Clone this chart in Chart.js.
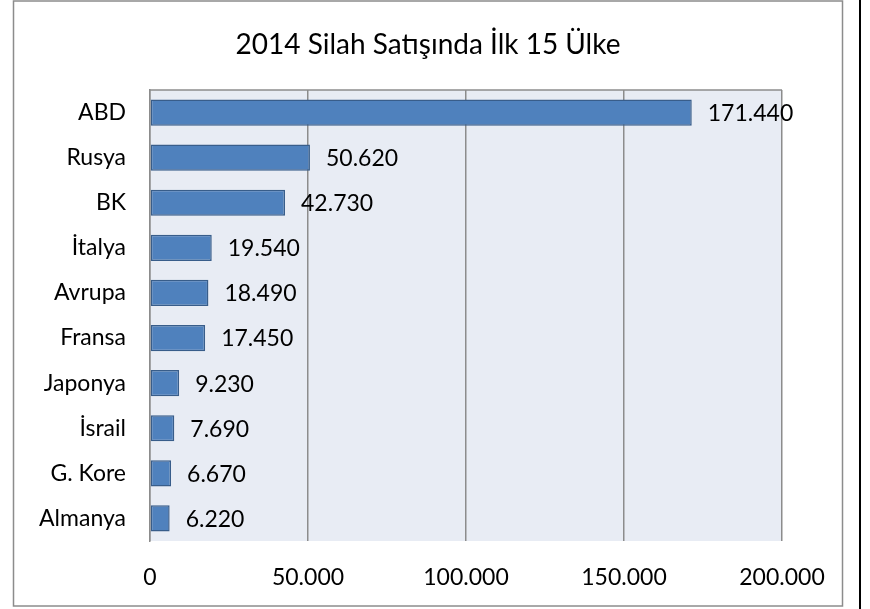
<!DOCTYPE html>
<html>
<head>
<meta charset="utf-8">
<script src="https://cdn.jsdelivr.net/npm/chart.js@4"></script>
<style>
  html, body { margin: 0; padding: 0; background: #fff; }
  #wrap { width: 870px; height: 609px; }
</style>
</head>
<body>
<div id="wrap"><canvas id="myChart" width="870" height="609"></canvas></div>
<script>
var ctx = document.getElementById('myChart');

const countries = ['ABD', 'Rusya', 'BK', 'İtalya', 'Avrupa', 'Fransa', 'Japonya', 'İsrail', 'G. Kore', 'Almanya'];
const sales = [171440, 50620, 42730, 19540, 18490, 17450, 9230, 7690, 6670, 6220];
const xTicks = [0, 50000, 100000, 150000, 200000];

const FONT = 'Lato, sans-serif';

function fmt(v) {
  return String(v).replace(/\B(?=(\d{3})+(?!\d))/g, '.');
}

// frame, plot background and value labels
const decor = {
  id: 'decor',
  beforeDraw(chart) {
    const c = chart.ctx, a = chart.chartArea;
    c.save();
    c.fillStyle = '#fff';
    c.fillRect(0, 0, chart.width, chart.height);
    c.strokeStyle = '#8c8c8c';
    c.lineWidth = 1.5;
    c.strokeRect(13.5, 1, 829, 605);
    c.strokeStyle = '#000';
    c.lineWidth = 2;
    c.beginPath(); c.moveTo(860, 0); c.lineTo(860, 609); c.stroke();
    c.fillStyle = '#e8ecf4';
    c.fillRect(a.left, a.top, a.right - a.left, a.bottom - a.top);
    c.strokeStyle = '#8c8c8c';
    c.lineWidth = 1.5;
    c.beginPath(); c.moveTo(a.left, a.top); c.lineTo(a.right, a.top); c.stroke();
    c.restore();
  },
  afterDatasetsDraw(chart) {
    const c = chart.ctx;
    const meta = chart.getDatasetMeta(0);
    c.save();
    c.font = '23px ' + FONT;
    c.fillStyle = '#000';
    c.textAlign = 'left';
    c.textBaseline = 'middle';
    meta.data.forEach(function (bar, i) {
      c.fillText(fmt(sales[i]), bar.x + 16, bar.y + 1);
    });
    c.restore();
  }
};

var myChart = new Chart(ctx, {
  type: 'bar',
  data: {
    labels: countries,
    datasets: [{
      data: sales,
      backgroundColor: '#4f81bd',
      borderColor: '#385d8a',
      borderWidth: 1.5,
      borderSkipped: false,
      barPercentage: 0.58,
      categoryPercentage: 1
    }]
  },
  options: {
    indexAxis: 'y',
    responsive: false,
    animation: false,
    layout: { padding: { left: 14, right: 28, top: 0, bottom: 0 } },
    scales: {
      x: {
        min: 0,
        max: 200000,
        afterBuildTicks(scale) { scale.ticks = xTicks.map(v => ({ value: v })); },
        afterFit(scale) { scale.height = 68; },
        grid: { color: '#8c8c8c', lineWidth: 1.5, drawTicks: false },
        border: { display: false },
        ticks: {
          padding: 23,
          color: '#000',
          font: { family: FONT, size: 23 },
          callback: v => fmt(v)
        }
      },
      y: {
        afterFit(scale) { scale.width = 136; },
        grid: { display: false, drawTicks: false },
        border: { display: true, color: '#8c8c8c', width: 1.5 },
        ticks: {
          padding: 24,
          color: '#000',
          font: { family: FONT, size: 23 }
        }
      },
      // empty right-hand space so the title centres on the whole frame
      pad: {
        type: 'linear',
        position: 'right',
        afterFit(scale) { scale.width = 60; },
        grid: { display: false, drawTicks: false },
        border: { display: false },
        ticks: { display: false }
      }
    },
    plugins: {
      legend: { display: false },
      tooltip: { enabled: false },
      title: {
        display: true,
        text: '2014 Silah Satışında İlk 15 Ülke',
        color: '#000',
        font: { family: FONT, size: 28, weight: 'normal' },
        padding: { top: 28, bottom: 28.4 }
      }
    }
  },
  plugins: [decor]
});
</script>
</body>
</html>
